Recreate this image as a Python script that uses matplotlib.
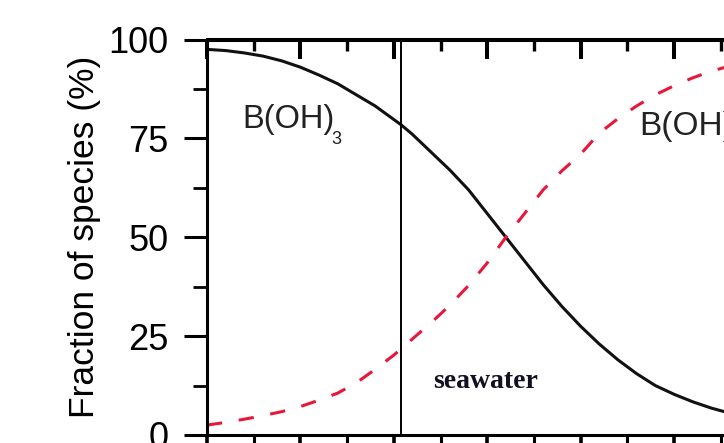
import numpy as np
import matplotlib.pyplot as plt
from matplotlib.ticker import MultipleLocator

# values (pH, % of species)
ph_acid = [7.0, 7.1, 7.2, 7.3, 7.4, 7.5, 7.6, 7.7, 7.8, 7.9, 8.04, 8.1, 8.2,
           8.3, 8.4, 8.5, 8.6, 8.7, 8.8, 8.9, 9.0, 9.1, 9.2, 9.3, 9.4, 9.5,
           9.6, 9.7, 9.8, 9.9]
acid = [97.5, 97.2, 96.6, 95.8, 94.6, 93.0, 91.0, 88.8, 86.0, 83.2, 78.4, 76.0,
        71.5, 67.0, 62.0, 56.0, 50.0, 44.0, 38.0, 32.5, 27.5, 23.0, 19.0, 15.5,
        12.5, 10.3, 8.4, 6.8, 5.5, 4.6]

ph_borate = [7.0, 7.1, 7.2, 7.3, 7.4, 7.5, 7.6, 7.7, 7.8, 7.9, 8.0, 8.1, 8.2,
             8.3, 8.4, 8.5, 8.6, 8.7, 8.8, 8.9, 9.0, 9.1, 9.2, 9.3, 9.4, 9.5,
             9.6, 9.7, 9.8, 9.9]
borate = [2.5, 3.2, 4.0, 4.9, 5.9, 7.2, 8.8, 10.6, 13.2, 16.6, 20.2, 24.3, 28.4,
          32.8, 37.8, 43.5, 50.0, 56.0, 62.0, 66.8, 71.0, 76.3, 80.0, 83.2, 86.0,
          88.3, 90.3, 92.0, 93.3, 94.6]

seawater_ph = 8.04
yticks = [0, 25, 50, 75, 100]

plt.rcParams['font.family'] = ['Liberation Sans', 'DejaVu Sans']

fig = plt.figure(figsize=(7.24, 4.43), dpi=100)
ax = fig.add_axes([207 / 724, 8 / 443, 560.4 / 724, 395.5 / 443])

ax.plot(ph_acid, acid, color='#111111', lw=2.2, solid_capstyle='butt')
ax.plot(ph_borate, borate, color='#e8173a', lw=2.2, dashes=(5, 5.5))
ax.axvline(seawater_ph, color='black', lw=1.4)

ax.set_xlim(7, 10)
ax.set_ylim(0, 100)

for s in ax.spines.values():
    s.set_linewidth(2.2)

ax.xaxis.set_major_locator(MultipleLocator(0.5))
ax.xaxis.set_minor_locator(MultipleLocator(0.25))
ax.set_yticks(yticks)
ax.yaxis.set_minor_locator(MultipleLocator(12.5))

ax.tick_params(axis='y', which='major', direction='out', length=16.5, width=2.2,
               pad=11, labelsize=26)
ax.tick_params(axis='y', which='minor', direction='out', length=10, width=2.0)
ax.tick_params(axis='x', which='major', direction='out', length=14, width=2.6,
               labelbottom=False)
ax.tick_params(axis='x', which='minor', direction='out', length=9, width=2.2)

top = ax.secondary_xaxis('top')
top.xaxis.set_major_locator(MultipleLocator(0.5))
top.xaxis.set_minor_locator(MultipleLocator(0.25))
top.tick_params(which='major', direction='in', length=14.4, width=2.9, labeltop=False)
top.tick_params(which='minor', direction='in', length=8.6, width=2.4)
top.spines['top'].set_linewidth(2.2)

ax.set_ylabel('Fraction of species (%)', fontsize=25.5, va='center')
ax.yaxis.set_label_coords(-122 / 560.4, 0.5)

ax.text(7.187, 77.6, 'B(OH)', fontsize=23.5, color='#222222')
ax.text(7.664, 73.6, '3', fontsize=13, color='#222222')
ax.text(9.312, 75.9, 'B(OH)', fontsize=24, color='#222222')
ax.text(9.83, 72.0, '4', fontsize=13, color='#222222')
ax.text(9.83, 82.0, '\u2212', fontsize=13, color='#222222')

ax.text(8.21, 11.9, 'seawater', fontsize=20, fontweight='bold',
        family=['Liberation Serif', 'DejaVu Serif'], color='#111122')

fig.savefig('out.png', dpi=100)
